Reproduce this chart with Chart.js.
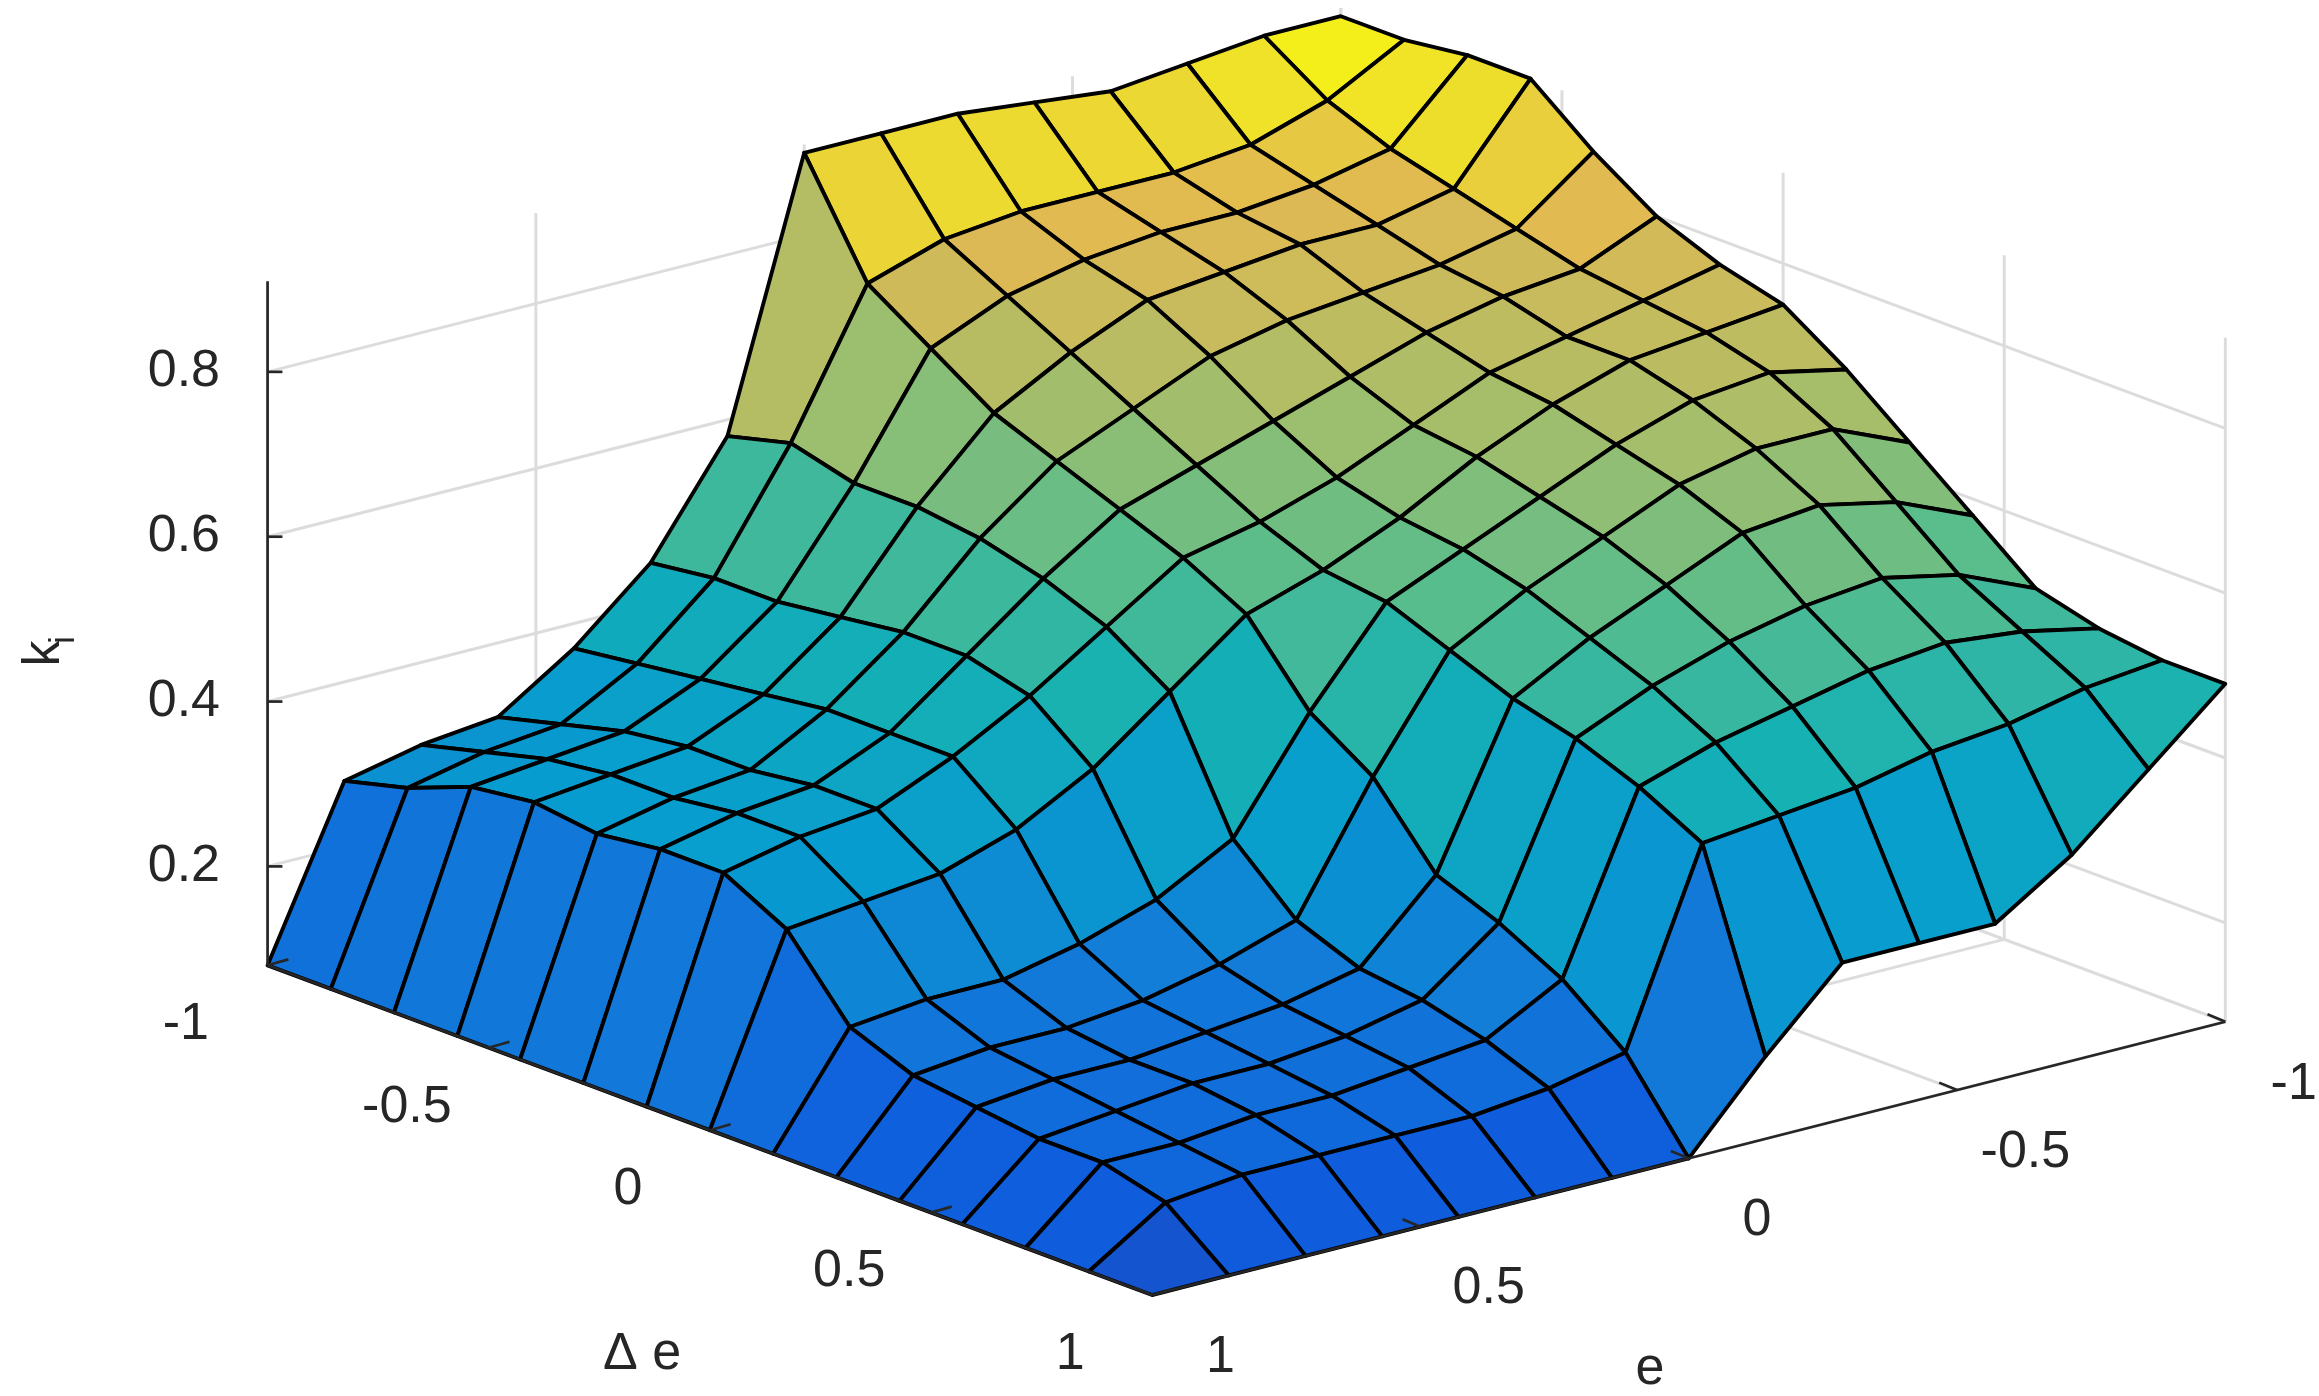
<!DOCTYPE html>
<html><head><meta charset="utf-8">
<script src="https://cdn.jsdelivr.net/npm/chart.js@4"></script>
<style>html,body{margin:0;padding:0;background:#fff}#wrap{width:2319px;height:1396px}</style>
</head><body><div id="wrap"><canvas id="c"></canvas></div>
<script>
// grid coordinates (Δe rows, e columns)
const deltaE = [-1,-0.857,-0.714,-0.571,-0.429,-0.286,-0.143,0,0.143,0.286,0.429,0.571,0.714,0.857,1];
const eVals  = [-1,-0.857,-0.714,-0.571,-0.429,-0.286,-0.143,0,0.143,0.286,0.429,0.571,0.714,0.857,1];
const axisTicks = [-1,-0.5,0,0.5,1];
const axisTickLabels = ['-1','-0.5','0','0.5','1'];
const zTicks = [0.2,0.4,0.6,0.8];
const zTickLabels = ['0.2','0.4','0.6','0.8'];
// k_i values, row = Δe index, column = e index
const Z = [
 [.90,.90,.89,.88,.89,.90,.90,.90,.58,.45,.37,.31,.30,.28,.08],
 [.90,.85,.82,.81,.81,.81,.80,.77,.60,.46,.38,.33,.32,.30,.08],
 [.91,.82,.80,.79,.79,.78,.76,.72,.58,.46,.39,.35,.34,.33,.08],
 [.91,.80,.78,.78,.77,.76,.72,.67,.58,.47,.40,.36,.35,.34,.08],
 [.85,.78,.76,.75,.74,.72,.68,.64,.57,.48,.41,.36,.35,.33,.08],
 [.80,.76,.75,.73,.70,.67,.64,.61,.55,.48,.41,.37,.36,.34,.08],
 [.77,.75,.73,.71,.67,.63,.60,.58,.52,.46,.41,.37,.36,.34,.08],
 [.75,.74,.73,.70,.66,.61,.57,.54,.47,.40,.35,.32,.31,.30,.08],
 [.70,.72,.71,.68,.64,.60,.56,.45,.32,.27,.24,.22,.22,.21,.08],
 [.64,.68,.68,.66,.62,.58,.53,.40,.25,.22,.20,.19,.19,.18,.08],
 [.58,.62,.64,.63,.59,.55,.50,.31,.22,.20,.19,.18,.18,.17,.08],
 [.52,.56,.58,.57,.55,.52,.48,.28,.21,.19,.18,.18,.17,.16,.08],
 [.50,.52,.53,.52,.50,.48,.45,.24,.19,.18,.17,.17,.16,.16,.08],
 [.49,.48,.46,.45,.43,.42,.41,.18,.16,.15,.15,.15,.15,.14,.08],
 [.49,.41,.33,.27,.27,.27,.18,.08,.08,.08,.08,.08,.08,.08,.08]
];
const zMin = 0.08, zMax = 0.91;
const cMin = 0.0, cMax = 0.91;

const parula = [[53,42,135],[15,92,221],[18,125,216],[7,156,207],[21,177,180],[89,189,140],[165,190,107],[225,185,82],[249,251,14]];
function cmap(t){t=Math.max(0,Math.min(1,t));const p=t*8,i=Math.min(7,Math.floor(p)),f=p-i;
 const a=parula[i],b=parula[i+1];return `rgb(${a.map((v,k)=>Math.round(v+(b[k]-v)*f)).join(',')})`;}

// projection into a 1560x940 design plane
function proj(de,e,z){return [838.5+de*297.5+e*(-361), 669+de*111+e*92-(z-zMin)*555];}

const surfacePlugin={id:'surf',afterDatasetsDraw(chart){
 const ctx=chart.ctx,xs=chart.scales.x,ys=chart.scales.y;
 const P=(de,e,z)=>{const q=proj(de,e,z);return [xs.getPixelForValue(q[0]),ys.getPixelForValue(q[1])];};
 const k=chart.width/1560;
 ctx.save();
 ctx.strokeStyle='#dcdcdc';ctx.lineWidth=2*k;
 const line=(a,b)=>{ctx.beginPath();ctx.moveTo(a[0],a[1]);ctx.lineTo(b[0],b[1]);ctx.stroke();};
 axisTicks.forEach(t=>{
  line(P(-1,t,zMin),P(-1,t,zMax));
  line(P(t,-1,zMin),P(t,-1,zMax));
  line(P(t,-1,zMin),P(t,1,zMin));
  line(P(-1,t,zMin),P(1,t,zMin));
 });
 zTicks.forEach(z=>{line(P(-1,1,z),P(-1,-1,z));line(P(-1,-1,z),P(1,-1,z));});
 const faces=[];
 for(let i=0;i<deltaE.length-1;i++)for(let j=0;j<eVals.length-1;j++){
  const c=[[i,j],[i+1,j],[i+1,j+1],[i,j+1]];
  const zavg=c.reduce((s,[a,b])=>s+Z[a][b],0)/4;
  const depth=proj((deltaE[i]+deltaE[i+1])/2,(eVals[j]+eVals[j+1])/2,zMin)[1];
  faces.push({c,zavg,depth});
 }
 faces.sort((a,b)=>a.depth-b.depth);
 ctx.lineJoin='round';
 faces.forEach(f=>{
  ctx.beginPath();
  f.c.forEach(([a,b],n)=>{const p=P(deltaE[a],eVals[b],Z[a][b]);n?ctx.lineTo(p[0],p[1]):ctx.moveTo(p[0],p[1]);});
  ctx.closePath();ctx.fillStyle=cmap((f.zavg-cMin)/(cMax-cMin));ctx.fill();
  ctx.strokeStyle='#000';ctx.lineWidth=2.6*k;ctx.stroke();
 });
 ctx.strokeStyle='#262626';ctx.lineWidth=1.8*k;
 line(P(-1,1,zMin),P(-1,1,zMax));
 line(P(-1,1,zMin),P(1,1,zMin));
 line(P(1,1,zMin),P(1,-1,zMin));
 ctx.fillStyle='#262626';ctx.font=`${35*k}px "Liberation Sans", Arial, sans-serif`;
 ctx.textBaseline='middle';
 zTicks.forEach((z,n)=>{const p=P(-1,1,z);line(p,[p[0]+10*k,p[1]]);ctx.textAlign='right';ctx.fillText(zTickLabels[n],p[0]-32*k,p[1]);});
 axisTicks.forEach((t,n)=>{
  const p=P(t,1,zMin);line(p,[p[0]+14*k,p[1]-4*k]);
  ctx.textAlign='center';ctx.fillText(axisTickLabels[n],p[0]-55*k,p[1]+40*k);
  const q=P(1,t,zMin);line(q,[q[0]-12*k,q[1]-5*k]);
  ctx.fillText(axisTickLabels[n],q[0]+46*k,q[1]+42*k);
 });
 ctx.fillText('Δ e',xs.getPixelForValue(432),ys.getPixelForValue(912));
 ctx.fillText('e',xs.getPixelForValue(1110),ys.getPixelForValue(922));
 ctx.save();ctx.translate(xs.getPixelForValue(30),ys.getPixelForValue(440));ctx.rotate(-Math.PI/2);
 ctx.fillText('k',0,0);ctx.font=`${24*k}px "Liberation Sans", Arial, sans-serif`;ctx.fillText('i',9*k,13*k);ctx.restore();
 ctx.restore();
}};

new Chart(document.getElementById('c'),{
 type:'scatter',
 data:{datasets:[{data:[],showLine:false}]},
 options:{responsive:true,maintainAspectRatio:false,animation:false,
  layout:{padding:0},
  plugins:{legend:{display:false},tooltip:{enabled:false}},
  scales:{x:{type:'linear',min:0,max:1560,display:false},
          y:{type:'linear',min:0,max:940,reverse:true,display:false}}},
 plugins:[surfacePlugin]
});
</script></body></html>
